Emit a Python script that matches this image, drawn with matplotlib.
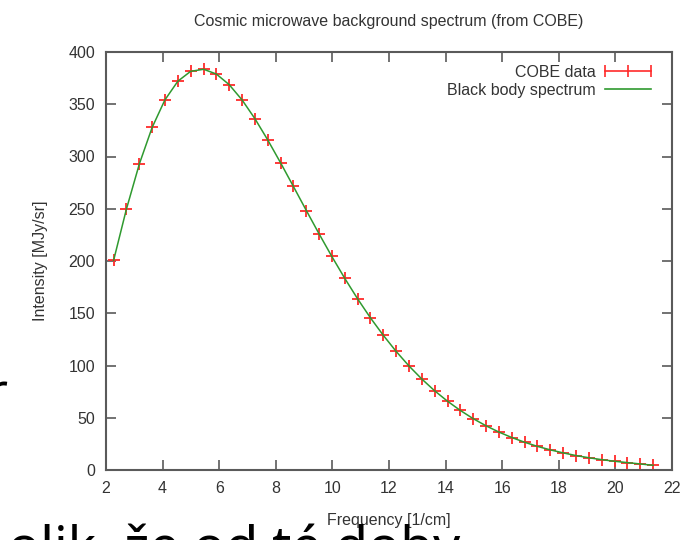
import matplotlib
matplotlib.use("Agg")
import matplotlib.pyplot as plt
from matplotlib.lines import Line2D
from matplotlib.legend_handler import HandlerLine2D

# COBE FIRAS data
freq = [2.27, 2.72, 3.18, 3.63, 4.08, 4.54, 4.99, 5.45, 5.90, 6.35, 6.81,
        7.26, 7.71, 8.17, 8.62, 9.08, 9.53, 9.98, 10.44, 10.89, 11.34, 11.80,
        12.25, 12.71, 13.16, 13.61, 14.07, 14.52, 14.97, 15.43, 15.88, 16.34,
        16.79, 17.24, 17.70, 18.15, 18.61, 19.06, 19.51, 19.97, 20.42, 20.87,
        21.33]
intensity = [200.72, 249.51, 293.02, 327.77, 354.08, 372.08, 381.49, 383.48,
             378.90, 368.83, 354.06, 336.28, 316.08, 293.92, 271.43, 248.24,
             225.94, 204.33, 183.26, 163.83, 145.75, 128.84, 113.57, 99.45,
             87.04, 75.88, 65.77, 57.01, 49.22, 42.27, 36.35, 31.06, 26.58,
             22.64, 19.26, 16.39, 13.81, 11.72, 9.92, 8.36, 7.09, 5.80, 4.52]
# black body curve values (same sampling as the data)
blackbody = intensity

xticks = list(range(2, 23, 2))
yticks = list(range(0, 401, 50))

red = "#ff2a2a"
green = "#2f9a2f"
frame = "#5a5a5a"
txt = "#333333"

plt.rcParams['font.family'] = ['Liberation Sans', 'DejaVu Sans']

fig = plt.figure(figsize=(6.81, 5.4), dpi=100)
ax = fig.add_axes([106 / 681, 1 - 470 / 540, 566 / 681, 418 / 540])

ax.plot(freq, intensity, linestyle="none", marker="+", markersize=9,
        markeredgewidth=1.3, color=red, zorder=2)
ax.plot(freq, blackbody, color=green, lw=1.1, zorder=3)

ax.set_xlim(2, 22)
ax.set_ylim(0, 400)
ax.set_xticks(xticks)
ax.set_yticks(yticks)
ax.tick_params(direction="in", length=7, width=1.2, color=frame,
               labelsize=11.5, labelcolor=txt, top=True, right=True, pad=8)
for s in ax.spines.values():
    s.set_color(frame)
    s.set_linewidth(1.5)

ax.set_title("Cosmic microwave background spectrum (from COBE)",
             fontsize=11.5, color=txt, pad=19)
ax.set_xlabel("Frequency [1/cm]", fontsize=11.5, color=txt)
ax.set_ylabel("Intensity [MJy/sr]", fontsize=11.5, color=txt)
ax.xaxis.set_label_coords(0.5, -0.103)
ax.yaxis.set_label_coords(-0.1025, 0.5)

# legend (gnuplot style: text first, sample after)
h1 = Line2D([], [], color=red, lw=1.2, marker="|", markersize=9,
            markeredgewidth=1.2)
h2 = Line2D([], [], color=green, lw=1.2)
ax.legend([h1, h2], ["COBE data", "Black body spectrum"],
          handler_map={h1: HandlerLine2D(numpoints=3, marker_pad=0)},
          loc="upper right", bbox_to_anchor=(0.975, 0.985), frameon=False,
          markerfirst=False, fontsize=11.5, handlelength=2.9,
          handletextpad=0.6, labelspacing=0.2, borderaxespad=0)
for t in ax.get_legend().get_texts():
    t.set_color(txt)

# page text behind the screenshot
fig.text(8 / 681, 1 - 564 / 540, "olik, že od té doby", fontsize=38.4,
         family="Noto Sans", color="black", va="baseline", ha="left")
fig.text(-15 / 681, 1 - 410 / 540, "r", fontsize=38.4,
         family="Noto Sans", color="black", va="baseline", ha="left")

fig.savefig("out.png", dpi=100)
